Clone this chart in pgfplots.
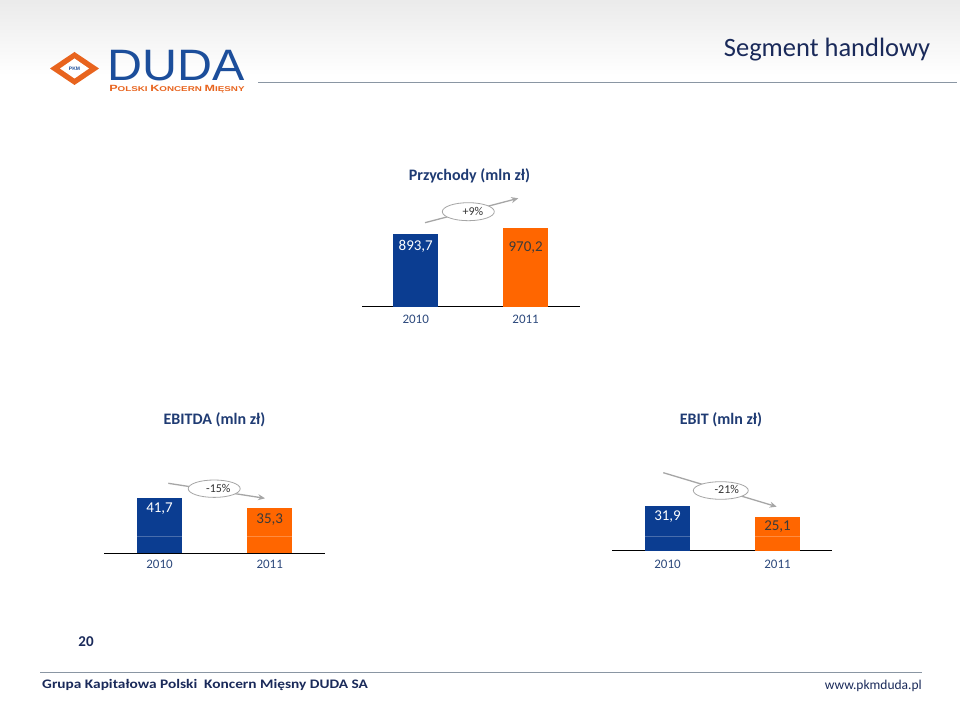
\documentclass[border=0pt]{standalone}
\usepackage{pgfplots}
\pgfplotsset{compat=1.18}
\usepackage{fontspec}
\setmainfont{Carlito}
\newfontfamily\logofont{Liberation Sans}
\usetikzlibrary{arrows.meta}
\definecolor{barblue}{HTML}{0B3D91}
\definecolor{barorange}{HTML}{FF6600}
\definecolor{navy}{HTML}{1F3B73}
\definecolor{ticknavy}{HTML}{2E4A7D}
\definecolor{arrgray}{HTML}{A6A6A6}
\definecolor{logoblue}{HTML}{1C4E9B}
\definecolor{logoorange}{HTML}{E8641E}
\definecolor{rulegray}{HTML}{8A96A3}
\definecolor{valgray}{HTML}{3A3A3A}
\definecolor{headnavy}{HTML}{1A2A5A}
\newcommand{\fs}[1]{\fontsize{#1}{#1}\selectfont}
\pgfplotsset{
  minibar/.style={
    scale only axis,
    anchor=south west,
    axis x line=bottom, axis y line=none,
    x axis line style={-, black, line width=1.5pt},
    ybar, bar width=45pt,
    xtick={0,1}, xticklabels={2010,2011},
    major tick length=0pt,
    xticklabel style={font=\fs{13}, text=ticknavy},
    ytick=\empty,
    /pgf/number format/.cd, use comma, fixed, fixed zerofill, precision=1, assume math mode=true, /pgfplots/.cd,
    nodes near coords,
    every node near coord/.append style={font=\fs{15}, anchor=center},
  }
}
\begin{document}
\begin{tikzpicture}
\path[use as bounding box] (0,0) rectangle (960pt,701pt);
\fill[white] (0,0) rectangle (960pt,701pt);
\shade[top color=black!8, bottom color=white] (0,701pt) rectangle (960pt,626pt);

% header
\node[anchor=center, text=headnavy, font=\fs{26.5}] at (827pt,651pt) {Segment handlowy};
\draw[rulegray, line width=1pt] (258pt,618.7pt) -- (957pt,618.7pt);
% logo
\fill[logoorange] (50pt,632.5pt) -- (74.5pt,649pt) -- (99pt,632.5pt) -- (74.5pt,616pt) -- cycle;
\fill[white] (60pt,632.5pt) -- (74.5pt,642.5pt) -- (89pt,632.5pt) -- (74.5pt,622.5pt) -- cycle;
\node[text=logoblue, font=\logofont\bfseries\fs{5}] at (74.5pt,632.5pt) {PKM};
\node[anchor=base west, inner sep=0pt, text=logoblue, font=\logofont\fs{44}, xscale=1.1] at (107pt,620pt) {DUDA};
\node[anchor=base west, inner sep=0pt, text=logoorange, font=\logofont\bfseries, xscale=1.4] at (109pt,609.3pt)
  {\fs{9}P\fs{7}OLSKI \fs{9}K\fs{7}ONCERN \fs{9}M\fs{7}IĘSNY};

% titles
\node[text=navy, font=\bfseries\fs{16}] at (469.5pt,525pt) {Przychody (mln zł)};
\node[text=navy, font=\bfseries\fs{16}] at (214.5pt,281pt) {EBITDA (mln zł)};
\node[text=navy, font=\bfseries\fs{16}] at (721pt,281pt) {EBIT (mln zł)};

% Przychody
\begin{axis}[minibar, at={(362pt,394.3pt)}, width=218pt, height=78.4pt,
  xmin=-0.489, xmax=1.495, ymin=0, ymax=970.2,
  xticklabel style={yshift=-5pt}]
\addplot[fill=barblue, draw=none, bar shift=0pt, every node near coord/.append style={text=white, yshift=-12pt}] coordinates {(0,893.7)};
\addplot[fill=barorange, draw=none, bar shift=0pt, every node near coord/.append style={text=valgray, yshift=-19pt}] coordinates {(1,970.2)};
\end{axis}

% EBITDA
\begin{axis}[minibar, at={(104pt,147.7pt)}, width=221pt, height=55.3pt,
  xmin=-0.504, xmax=1.502, ymin=7.3, ymax=41.7,
  xticklabel style={yshift=-3pt}]
\addplot[fill=barblue, draw=none, bar shift=0pt, every node near coord/.append style={text=white, yshift=-11pt}] coordinates {(0,41.7)};
\addplot[fill=barorange, draw=none, bar shift=0pt, every node near coord/.append style={text=valgray, yshift=-11pt}] coordinates {(1,35.3)};
\draw[white, opacity=0.25, line width=1pt] (axis cs:-0.5,17.9) -- (axis cs:1.5,17.9);
\end{axis}

% EBIT
\begin{axis}[minibar, at={(612pt,150.3pt)}, width=220pt, height=44.7pt,
  xmin=-0.505, xmax=1.495, ymin=3.5, ymax=31.9, bar width=44.5pt,
  xticklabel style={yshift=-6pt}]
\addplot[fill=barblue, draw=none, bar shift=0pt, every node near coord/.append style={text=white, yshift=-11pt}] coordinates {(0,31.9)};
\addplot[fill=barorange, draw=none, bar shift=0pt, every node near coord/.append style={text=valgray, yshift=-10pt}] coordinates {(1,25.1)};
\draw[white, opacity=0.25, line width=1pt] (axis cs:-0.5,12.4) -- (axis cs:1.5,12.4);
\end{axis}

% change arrows
\draw[arrgray, line width=1.3pt, -{Stealth[length=7pt,width=6pt]}] (425pt,478.3pt) -- (518.3pt,502.7pt);
\draw[arrgray, fill=white, line width=0.8pt] (468.3pt,489.3pt) ellipse [x radius=26pt, y radius=9pt];
\node[font=\fs{12}, text=black!80] at (473pt,489.3pt) {+9\%};

\draw[arrgray, line width=1.3pt, -{Stealth[length=7pt,width=6pt]}] (168.3pt,217.7pt) -- (265pt,202.7pt);
\draw[arrgray, fill=white, line width=0.8pt] (214.2pt,212.3pt) ellipse [x radius=26pt, y radius=8.7pt];
\node[font=\fs{12}, text=black!80] at (218.3pt,213pt) {-15\%};

\draw[arrgray, line width=1.3pt, -{Stealth[length=7pt,width=6pt]}] (663.3pt,228.3pt) -- (776.7pt,194.3pt);
\draw[arrgray, fill=white, line width=0.8pt] (720.8pt,210.5pt) ellipse [x radius=27.5pt, y radius=8.8pt];
\node[font=\fs{12}, text=black!80] at (726.7pt,211.7pt) {-21\%};

% footer
\node[text=headnavy, font=\bfseries\fs{15}] at (86pt,59pt) {20};
\draw[rulegray, line width=1pt] (40pt,29pt) -- (922pt,29pt);
\node[anchor=west, inner sep=0pt, text=headnavy, font=\bfseries\fs{13}, xscale=1.18] at (42pt,16pt) {Grupa Kapitałowa Polski\ \ Koncern Mięsny DUDA SA};
\node[anchor=east, inner sep=0pt, text=headnavy, font=\fs{13.5}] at (922pt,15pt) {www.pkmduda.pl};
\end{tikzpicture}
\end{document}
